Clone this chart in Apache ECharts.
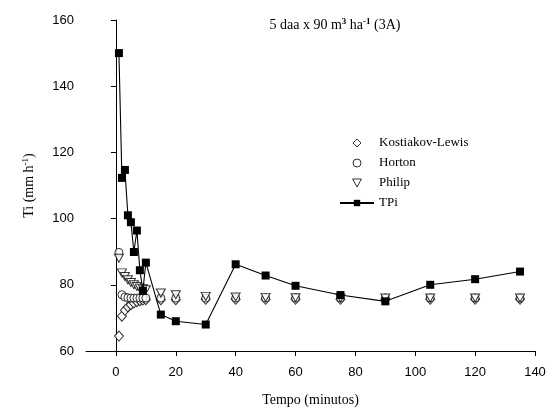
<!DOCTYPE html>
<html>
<head>
<meta charset="utf-8">
<script src="https://cdn.jsdelivr.net/npm/echarts@6/dist/echarts.min.js"></script>
<style>
  html, body { margin: 0; padding: 0; background: #fff; }
  #main { width: 560px; height: 414px; }
</style>
</head>
<body>
<div id="main"></div>
<script>
// tempo (minutos)
const tempo = [1, 2, 3, 4, 5, 6, 7, 8, 9, 10, 15, 20, 30, 40, 50, 60, 75, 90, 105, 120, 135]
// Ti (mm h-1)
const kostiakov = [64.5, 70.5, 72.3, 73.3, 74, 74.5, 74.9, 75.2, 75.4, 75.5, 75.5, 75.5, 75.6, 75.6, 75.6, 75.6, 75.6, 75.6, 75.6, 75.6, 75.6]
const horton = [89.8, 77, 76.3, 76.1, 76, 76, 76, 76, 76, 76, 76, 76, 76, 76, 76, 76, 76, 76, 76, 76, 76]
const philip = [88, 83.6, 82.5, 81.5, 80.7, 80, 79.5, 79, 78.8, 78.5, 77.5, 77, 76.5, 76.3, 76.2, 76.1, 76, 76, 76, 76, 76]
const tpi = [150, 112.3, 114.7, 101, 98.9, 89.9, 96.4, 84.4, 78.2, 86.7, 71, 69, 68, 86.2, 82.8, 79.7, 76.9, 75, 80, 81.7, 84]
const xTicks = [0, 20, 40, 60, 80, 100, 120, 140]

const pares = arr => tempo.map((t, i) => [t, arr[i]])
const serif = '"Liberation Serif", "Times New Roman", serif'
const sans = '"Liberation Sans", Arial, sans-serif'
const aberto = { color: '#fff', borderColor: '#000', borderWidth: 1 }
const sup = { fontFamily: serif, fontSize: 9, color: '#000', verticalAlign: 'bottom', padding: [0, 0, 8, 0] }

let myChart = echarts.init(document.getElementById('main'))
myChart.setOption({
  animation: false,
  title: {
    text: '{a|5 daa x 90 m}{s|3}{a| ha}{s|-1}{a| (3A)}',
    left: 330,
    textAlign: 'center',
    top: 12,
    textStyle: {
      rich: {
        a: { fontFamily: serif, fontSize: 14, fontWeight: 'normal', color: '#000' },
        s: sup
      }
    }
  },
  legend: {
    orient: 'vertical',
    left: 334,
    top: 131,
    itemWidth: 34,
    itemHeight: 8,
    itemGap: 6,
    itemStyle: { borderWidth: 1 },
    textStyle: { fontFamily: serif, fontSize: 13, color: '#000', lineHeight: 14 },
    data: ['Kostiakov-Lewis', 'Horton', 'Philip', 'TPi']
  },
  grid: { left: 86, right: 25, top: 20, bottom: 63 },
  xAxis: {
    type: 'value',
    min: -10,
    max: 140,
    name: 'Tempo (minutos)',
    nameLocation: 'middle',
    nameGap: 42,
    nameTextStyle: { fontFamily: serif, fontSize: 14, color: '#000' },
    axisLine: { lineStyle: { color: '#000', width: 1 } },
    axisTick: { length: 5, customValues: xTicks, lineStyle: { color: '#000' } },
    axisLabel: { customValues: xTicks, fontFamily: sans, fontSize: 13, color: '#000', margin: 15 },
    splitLine: { show: false }
  },
  yAxis: {
    type: 'value',
    min: 60,
    max: 160,
    interval: 20,
    name: '{a|Ti (mm h}{s|-1}{a|)}',
    nameLocation: 'middle',
    nameGap: 48,
    nameTextStyle: {
      rich: {
        a: { fontFamily: serif, fontSize: 14, color: '#000' },
        s: sup
      }
    },
    axisLine: { show: true, lineStyle: { color: '#000', width: 1 } },
    axisTick: { show: true, length: 5, lineStyle: { color: '#000' } },
    axisLabel: { fontFamily: sans, fontSize: 13, color: '#000', margin: 12 },
    splitLine: { show: false }
  },
  series: [
    {
      name: 'Kostiakov-Lewis',
      type: 'scatter',
      symbol: 'path://M5,0 L10,5 L5,10 L0,5 Z',
      symbolSize: [9, 10],
      itemStyle: aberto,
      data: pares(kostiakov)
    },
    {
      name: 'Horton',
      type: 'scatter',
      symbol: 'circle',
      symbolSize: 8,
      itemStyle: aberto,
      data: pares(horton)
    },
    {
      name: 'Philip',
      type: 'scatter',
      symbol: 'path://M0,0 L10,0 L5,9 Z',
      symbolSize: [9, 8],
      itemStyle: aberto,
      data: pares(philip)
    },
    {
      name: 'TPi',
      type: 'line',
      symbol: 'rect',
      symbolSize: 8,
      showAllSymbol: true,
      itemStyle: { color: '#000' },
      lineStyle: { color: '#000', width: 1.1 },
      z: 5,
      data: pares(tpi)
    }
  ]
})
</script>
</body>
</html>
